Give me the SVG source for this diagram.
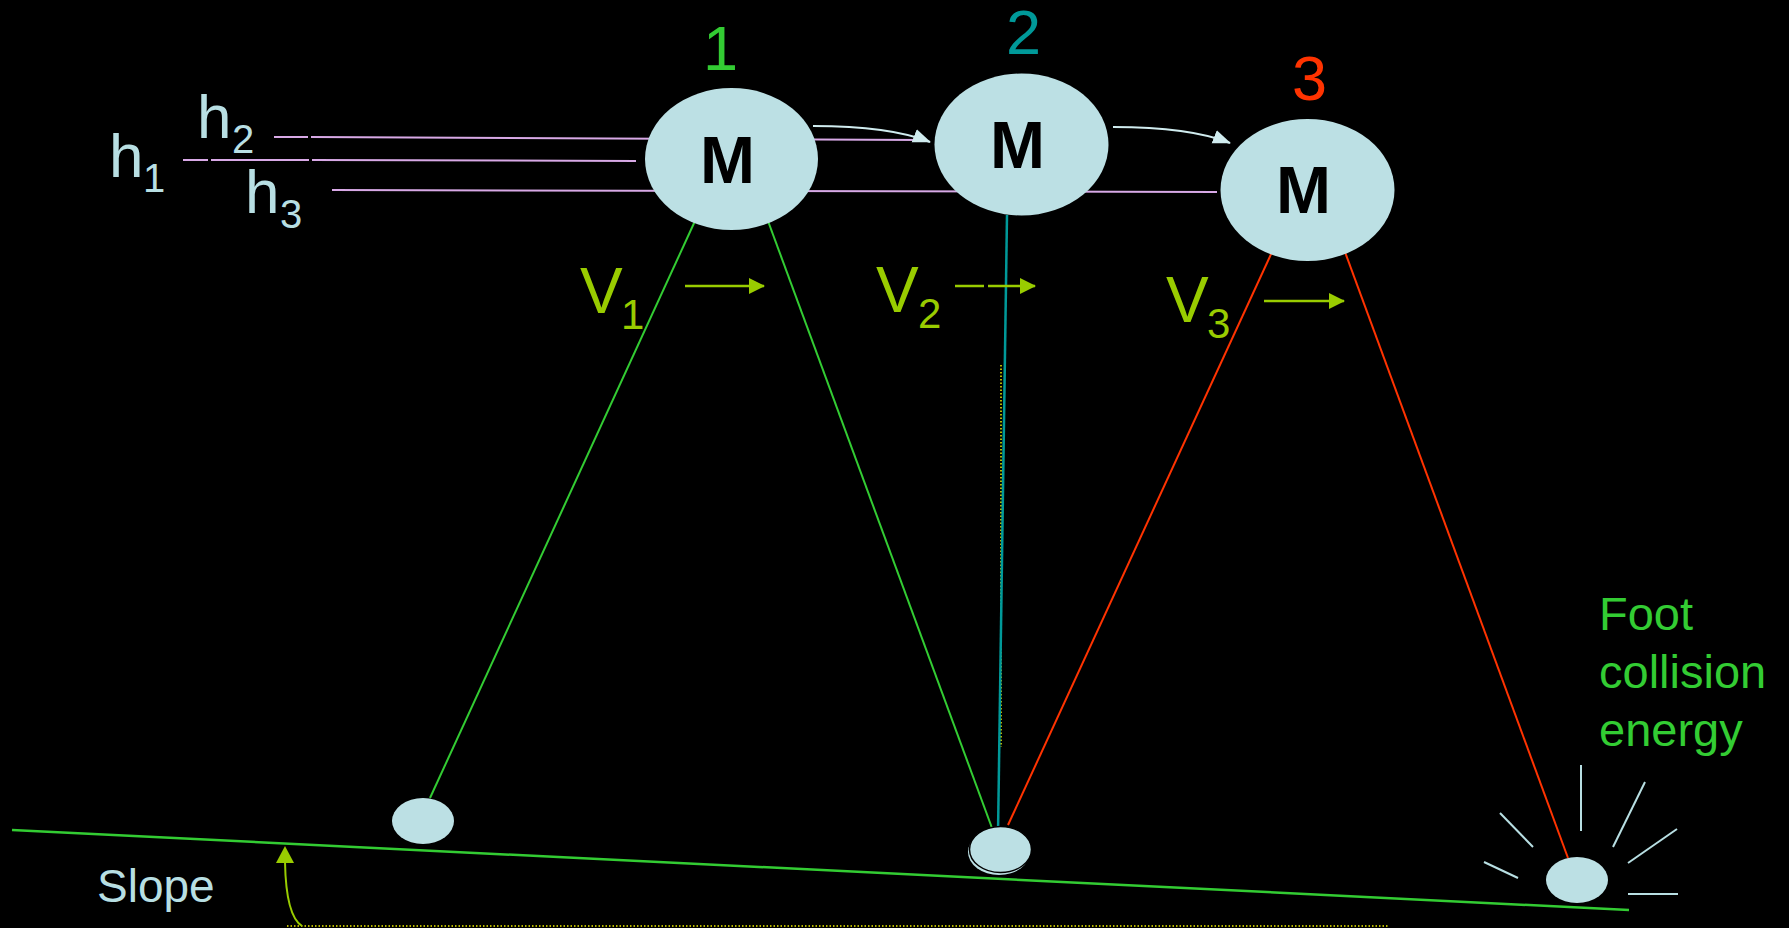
<svg xmlns="http://www.w3.org/2000/svg" width="1789" height="928" viewBox="0 0 1789 928">
  <style>
    .bg { fill: #000000; }
    .mass { fill: #bce0e4; }
    .foot { fill: #bce0e4; }
    .m { font-family: "Liberation Sans", Arial, sans-serif; font-weight: bold; font-size: 66px; fill: #000000; }
    .lbl { font-family: "Liberation Sans", Arial, sans-serif; }
    .hmain { font-size: 62px; fill: #b8dfe3; }
    .hsub { font-size: 40px; fill: #b8dfe3; }
    .vmain { font-size: 64px; fill: #99cc00; }
    .vsub { font-size: 42px; fill: #99cc00; }
    .num { font-size: 63px; }
    .hline { stroke: #d8a9e6; stroke-width: 2; fill: none; }
    .leg-g { stroke: #33cc33; stroke-width: 2; fill: none; }
    .leg-t { stroke: #009999; stroke-width: 2.5; fill: none; }
    .leg-r { stroke: #ff3300; stroke-width: 2; fill: none; }
    .vel { stroke: #99cc00; stroke-width: 2.5; fill: none; }
    .path-arrow { stroke: #d0ecef; stroke-width: 2; fill: none; }
    .burst { stroke: #b8dfe3; stroke-width: 2; fill: none; }
    .dots { stroke: #b5b500; stroke-width: 2; stroke-dasharray: 1.5 2; fill: none; }
  </style>
  <defs>
    <marker id="head-vel" markerUnits="userSpaceOnUse" markerWidth="16" markerHeight="18" refX="15" refY="9" orient="auto">
      <path d="M0,1 L16,9 L0,17 Z" fill="#99cc00"/>
    </marker>
    <marker id="head-path" markerUnits="userSpaceOnUse" markerWidth="18" markerHeight="16" refX="17" refY="8" orient="auto">
      <path d="M0,1 L18,8 L0,15 Z" fill="#d0ecef"/>
    </marker>
  </defs>

  <rect class="bg" x="0" y="0" width="1789" height="928"/>

  <!-- ground and slope angle -->
  <g id="ground">
    <line x1="12" y1="830" x2="1629" y2="910" stroke="#33cc33" stroke-width="2.5"/>
    <line class="dots" x1="287" y1="926" x2="1389" y2="926"/>
    <path d="M302,926 Q286,916 285,862" stroke="#99cc00" stroke-width="2" fill="none"/>
    <path d="M285,846 L294,863 L276,863 Z" fill="#99cc00"/>
    <text class="lbl" x="97" y="902" font-size="46" fill="#b8dfe3">Slope</text>
  </g>

  <!-- height reference lines and labels -->
  <g id="heights">
    <line class="hline" x1="183" y1="160" x2="208" y2="160"/>
    <line class="hline" x1="211" y1="160" x2="309" y2="160"/>
    <line class="hline" x1="312" y1="160" x2="636" y2="161"/>
    <line class="hline" x1="274" y1="137" x2="308" y2="137"/>
    <line class="hline" x1="311" y1="137" x2="922" y2="140"/>
    <line class="hline" x1="332" y1="190" x2="1217" y2="192"/>
    <text class="lbl hmain" x="109" y="177">h</text>
    <text class="lbl hsub" x="143" y="192">1</text>
    <text class="lbl hmain" x="197" y="138">h</text>
    <text class="lbl hsub" x="232" y="153">2</text>
    <text class="lbl hmain" x="245" y="213">h</text>
    <text class="lbl hsub" x="280" y="228">3</text>
  </g>

  <!-- leg lines and dotted vertical reference -->
  <g id="connectors">
    <line class="dots" x1="1001" y1="365" x2="1001" y2="747"/>
    <line class="leg-g" x1="695" y1="221" x2="430" y2="798"/>
    <line class="leg-g" x1="768" y1="221" x2="992" y2="828"/>
    <line class="leg-t" x1="1007" y1="215" x2="998" y2="834"/>
    <line class="leg-r" x1="1272" y1="252" x2="1008" y2="825"/>
    <line class="leg-r" x1="1345" y1="252" x2="1568" y2="858"/>
    <path class="path-arrow" d="M813,126 C862,126 900,130 930,142" marker-end="url(#head-path)"/>
    <path class="path-arrow" d="M1113,127 C1162,127 1200,131 1230,143" marker-end="url(#head-path)"/>
    <line class="vel" x1="685" y1="286" x2="764" y2="286" marker-end="url(#head-vel)"/>
    <line class="vel" x1="955" y1="286" x2="984" y2="286"/>
    <line class="vel" x1="988" y1="286" x2="1035" y2="286" marker-end="url(#head-vel)"/>
    <line class="vel" x1="1264" y1="301" x2="1344" y2="301" marker-end="url(#head-vel)"/>
  </g>

  <!-- velocity labels -->
  <g id="velocities">
    <text class="lbl vmain" x="580" y="313">V</text>
    <text class="lbl vsub" x="621" y="329">1</text>
    <text class="lbl vmain" x="876" y="312">V</text>
    <text class="lbl vsub" x="918" y="328">2</text>
    <text class="lbl vmain" x="1166" y="322">V</text>
    <text class="lbl vsub" x="1207" y="338">3</text>
  </g>

  <!-- body mass at three instants -->
  <g id="mass1">
    <ellipse class="mass" cx="731.5" cy="159" rx="86.5" ry="71"/>
    <text class="m" x="700" y="183">M</text>
    <text class="lbl num" x="703" y="70" fill="#33cc33">1</text>
  </g>
  <g id="mass2">
    <ellipse class="mass" cx="1021.5" cy="144.5" rx="87" ry="71"/>
    <text class="m" x="990" y="168">M</text>
    <text class="lbl num" x="1006" y="54" fill="#009999">2</text>
  </g>
  <g id="mass3">
    <ellipse class="mass" cx="1307.5" cy="190" rx="87" ry="71"/>
    <text class="m" x="1276" y="213">M</text>
    <text class="lbl num" x="1292" y="100" fill="#ff3300">3</text>
  </g>

  <!-- feet -->
  <g id="foot1">
    <ellipse class="foot" cx="423" cy="821" rx="31" ry="23"/>
  </g>
  <g id="foot2">
    <ellipse class="foot" cx="999" cy="852" rx="31" ry="23"/>
    <ellipse class="foot" cx="1000.5" cy="849.5" rx="31" ry="23" stroke="#000000" stroke-width="1.5"/>
  </g>
  <g id="foot3">
    <ellipse class="foot" cx="1577" cy="880" rx="31" ry="23"/>
    <line class="burst" x1="1581" y1="765" x2="1581" y2="831"/>
    <line class="burst" x1="1645" y1="782" x2="1613" y2="847"/>
    <line class="burst" x1="1677" y1="829" x2="1628" y2="863"/>
    <line class="burst" x1="1628" y1="894" x2="1678" y2="894"/>
    <line class="burst" x1="1500" y1="813" x2="1533" y2="847"/>
    <line class="burst" x1="1484" y1="862" x2="1518" y2="878"/>
  </g>

  <g id="collision-label">
    <text class="lbl" font-size="47" fill="#33cc33">
      <tspan x="1599" y="630">Foot</tspan>
      <tspan x="1599" y="688">collision</tspan>
      <tspan x="1599" y="746">energy</tspan>
    </text>
  </g>
</svg>
